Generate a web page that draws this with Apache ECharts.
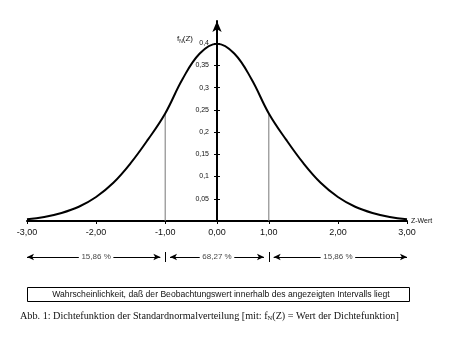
<!DOCTYPE html>
<html><head><meta charset="utf-8">
<script src="https://cdn.jsdelivr.net/npm/echarts@6/dist/echarts.min.js"></script>
<style>html,body{margin:0;padding:0;background:#fff}#c{width:470px;height:344px}</style>
</head><body><div id="c"></div>
<script>
// z values (the original chart spaces the points unevenly: finer steps in the tails)
const zValues = [-3,-2.75,-2.5,-2.25,-2,-1.75,-1.5,-1.25,-1,-0.667,-0.333,0,0.333,0.667,1,1.25,1.5,1.75,2,2.25,2.5,2.75,3];
const density = [0.004,0.009,0.018,0.032,0.054,0.086,0.130,0.183,0.242,0.319,0.377,0.399,0.377,0.319,0.242,0.183,0.130,0.086,0.054,0.032,0.018,0.009,0.004];
const xTickValues = [-3,-2,-1,0,1,2,3];
const xTickLabels = ['-3,00','-2,00','-1,00','0,00','1,00','2,00','3,00'];
const yTickValues = [0.05,0.1,0.15,0.2,0.25,0.3,0.35,0.4];
const yTickLabels = ['0,05','0,1','0,15','0,2','0,25','0,3','0,35','0,4'];
const markerZ = [-1, 1];
const markerDensity = [0.242, 0.242];
const intervalBounds = [-3, -1, 1, 3];
const intervalLabels = ['15,86 %', '68,27 %', '15,86 %'];
const yAxisTitle = ['f', 'N', '(Z)'];
const xAxisTitle = 'Z-Wert';
const boxText = 'Wahrscheinlichkeit, daß der Beobachtungswert innerhalb des angezeigten Intervalls liegt';
const captionParts = ['Abb. 1: Dichtefunktion der Standardnormalverteilung [mit: f', 'N', '(Z) = Wert der Dichtefunktion]'];

const categories = zValues.map(String);
const idxOf = z => zValues.indexOf(z);
const markerData = zValues.map(z => { const k = markerZ.indexOf(z); return k >= 0 ? markerDensity[k] : '-'; });

const SANS = 'Liberation Sans, Arial, sans-serif';
const SERIF = 'Liberation Serif, Times New Roman, serif';

const INSET = 0.28, HALF_GAP = 1.0;
const leftPieces = [], rightPieces = [], segLabelPoints = [];
for (let i = 0; i < intervalLabels.length; i++) {
  const a = idxOf(intervalBounds[i]), b = idxOf(intervalBounds[i + 1]);
  const s = a + (i === 0 ? 0 : INSET);
  const e = b - (i === intervalLabels.length - 1 ? 0 : INSET);
  const m = (a + b) / 2;
  leftPieces.push([{ coord: [s, 0.5] }, { coord: [m - HALF_GAP, 0.5] }]);
  rightPieces.push([{ coord: [m + HALF_GAP, 0.5] }, { coord: [e, 0.5] }]);
  segLabelPoints.push({ value: [m, 0.5], name: intervalLabels[i] });
}
const sepLines = intervalBounds.slice(1, -1).map(z => [
  { coord: [idxOf(z), 0] }, { coord: [idxOf(z), 1] }
]);

function markLineSeries(data, symbol) {
  return {
    type: 'line', xAxisIndex: 1, yAxisIndex: 1, data: [], silent: true,
    markLine: {
      silent: true, animation: false, symbol: symbol, symbolSize: [5, 7],
      lineStyle: { color: '#000', width: 1, type: 'solid' },
      label: { show: false }, emphasis: { disabled: true }, data: data
    }
  };
}

const chart = echarts.init(document.getElementById('c'), null, { renderer: 'canvas' });
chart.setOption({
  animation: false,
  backgroundColor: '#fff',
  grid: [
    { left: 27, right: 63, top: 21, bottom: 123 },
    { left: 27, right: 63, top: 252, height: 10 }
  ],
  xAxis: [{
    type: 'category', gridIndex: 0, data: categories, boundaryGap: false,
    axisLine: { lineStyle: { color: '#000', width: 2 } },
    axisTick: { length: 3, lineStyle: { color: '#000', width: 1 },
      interval: (i, v) => xTickValues.includes(Number(v)) },
    axisLabel: { margin: 7, color: '#111', fontFamily: SANS, fontSize: 9,
      interval: (i, v) => xTickValues.includes(Number(v)),
      formatter: v => { const k = xTickValues.indexOf(Number(v)); return k >= 0 ? xTickLabels[k] : ''; } },
    splitLine: { show: false },
    name: xAxisTitle, nameLocation: 'end', nameGap: 4,
    nameTextStyle: { fontFamily: SANS, fontSize: 7, color: '#111' }
  }, {
    type: 'value', gridIndex: 1, min: 0, max: categories.length - 1, show: false
  }],
  yAxis: [{
    type: 'value', gridIndex: 0, min: 0, max: 0.45, position: 'left', offset: -190,
    axisLine: { show: true, lineStyle: { color: '#000', width: 2 }, symbol: ['none', 'arrow'], symbolSize: [7, 11] },
    axisTick: { show: true, length: 3, customValues: yTickValues, lineStyle: { color: '#000', width: 1 } },
    axisLabel: { margin: 8, color: '#111', fontFamily: SANS, fontSize: 7,
      customValues: yTickValues,
      formatter: v => { const k = yTickValues.findIndex(t => Math.abs(t - v) < 1e-6); return k >= 0 ? yTickLabels[k] : ''; } },
    splitLine: { show: false }
  }, {
    type: 'value', gridIndex: 1, min: 0, max: 1, show: false
  }, {
    type: 'value', gridIndex: 0, min: 0, max: 0.45, position: 'left', offset: -190,
    axisLine: { show: false },
    axisTick: { show: true, inside: true, length: 3, customValues: yTickValues, lineStyle: { color: '#000', width: 1 } },
    axisLabel: { show: false }, splitLine: { show: false }
  }],
  series: [{
    type: 'bar', xAxisIndex: 0, yAxisIndex: 0, data: markerData, barWidth: 1,
    itemStyle: { color: '#777' }, silent: true
  }, {
    type: 'line', xAxisIndex: 0, yAxisIndex: 0, data: density, smooth: 0.4,
    showSymbol: false, lineStyle: { color: '#000', width: 2 }, silent: true
  },
    markLineSeries(leftPieces, ['arrow', 'none']),
    markLineSeries(rightPieces, ['none', 'arrow']),
    markLineSeries(sepLines, ['none', 'none']),
  {
    type: 'scatter', xAxisIndex: 1, yAxisIndex: 1, data: segLabelPoints, symbolSize: 0, silent: true,
    label: { show: true, position: 'inside', formatter: p => p.name,
      color: '#111', fontFamily: SANS, fontSize: 8 },
    emphasis: { disabled: true }
  }],
  graphic: [
    { type: 'text', x: 193, y: 39, style: {
      text: '{a|' + yAxisTitle[0] + '}{b|' + yAxisTitle[1] + '}{a|' + yAxisTitle[2] + '}',
      textAlign: 'right', textVerticalAlign: 'middle',
      rich: { a: { fontFamily: SANS, fontSize: 8, fill: '#111', lineHeight: 10 },
              b: { fontFamily: SANS, fontSize: 5, fill: '#111', lineHeight: 10, verticalAlign: 'bottom' } } } },
    { type: 'rect', shape: { x: 27.5, y: 287.5, width: 382, height: 14 },
      style: { fill: '#fff', stroke: '#000', lineWidth: 1 } },
    { type: 'text', x: 221, y: 295, style: { text: boxText, font: '8.6px ' + SANS, fill: '#111',
      textAlign: 'center', textVerticalAlign: 'middle' } },
    { type: 'text', x: 20, y: 316, style: {
      text: '{t|' + captionParts[0] + '}{s|' + captionParts[1] + '}{t|' + captionParts[2] + '}',
      textVerticalAlign: 'middle',
      rich: { t: { fontFamily: SERIF, fontSize: 10.2, fill: '#111', lineHeight: 12 },
              s: { fontFamily: SERIF, fontSize: 6.5, fill: '#111', lineHeight: 12, verticalAlign: 'bottom' } } } }
  ]
});
</script>
</body></html>
